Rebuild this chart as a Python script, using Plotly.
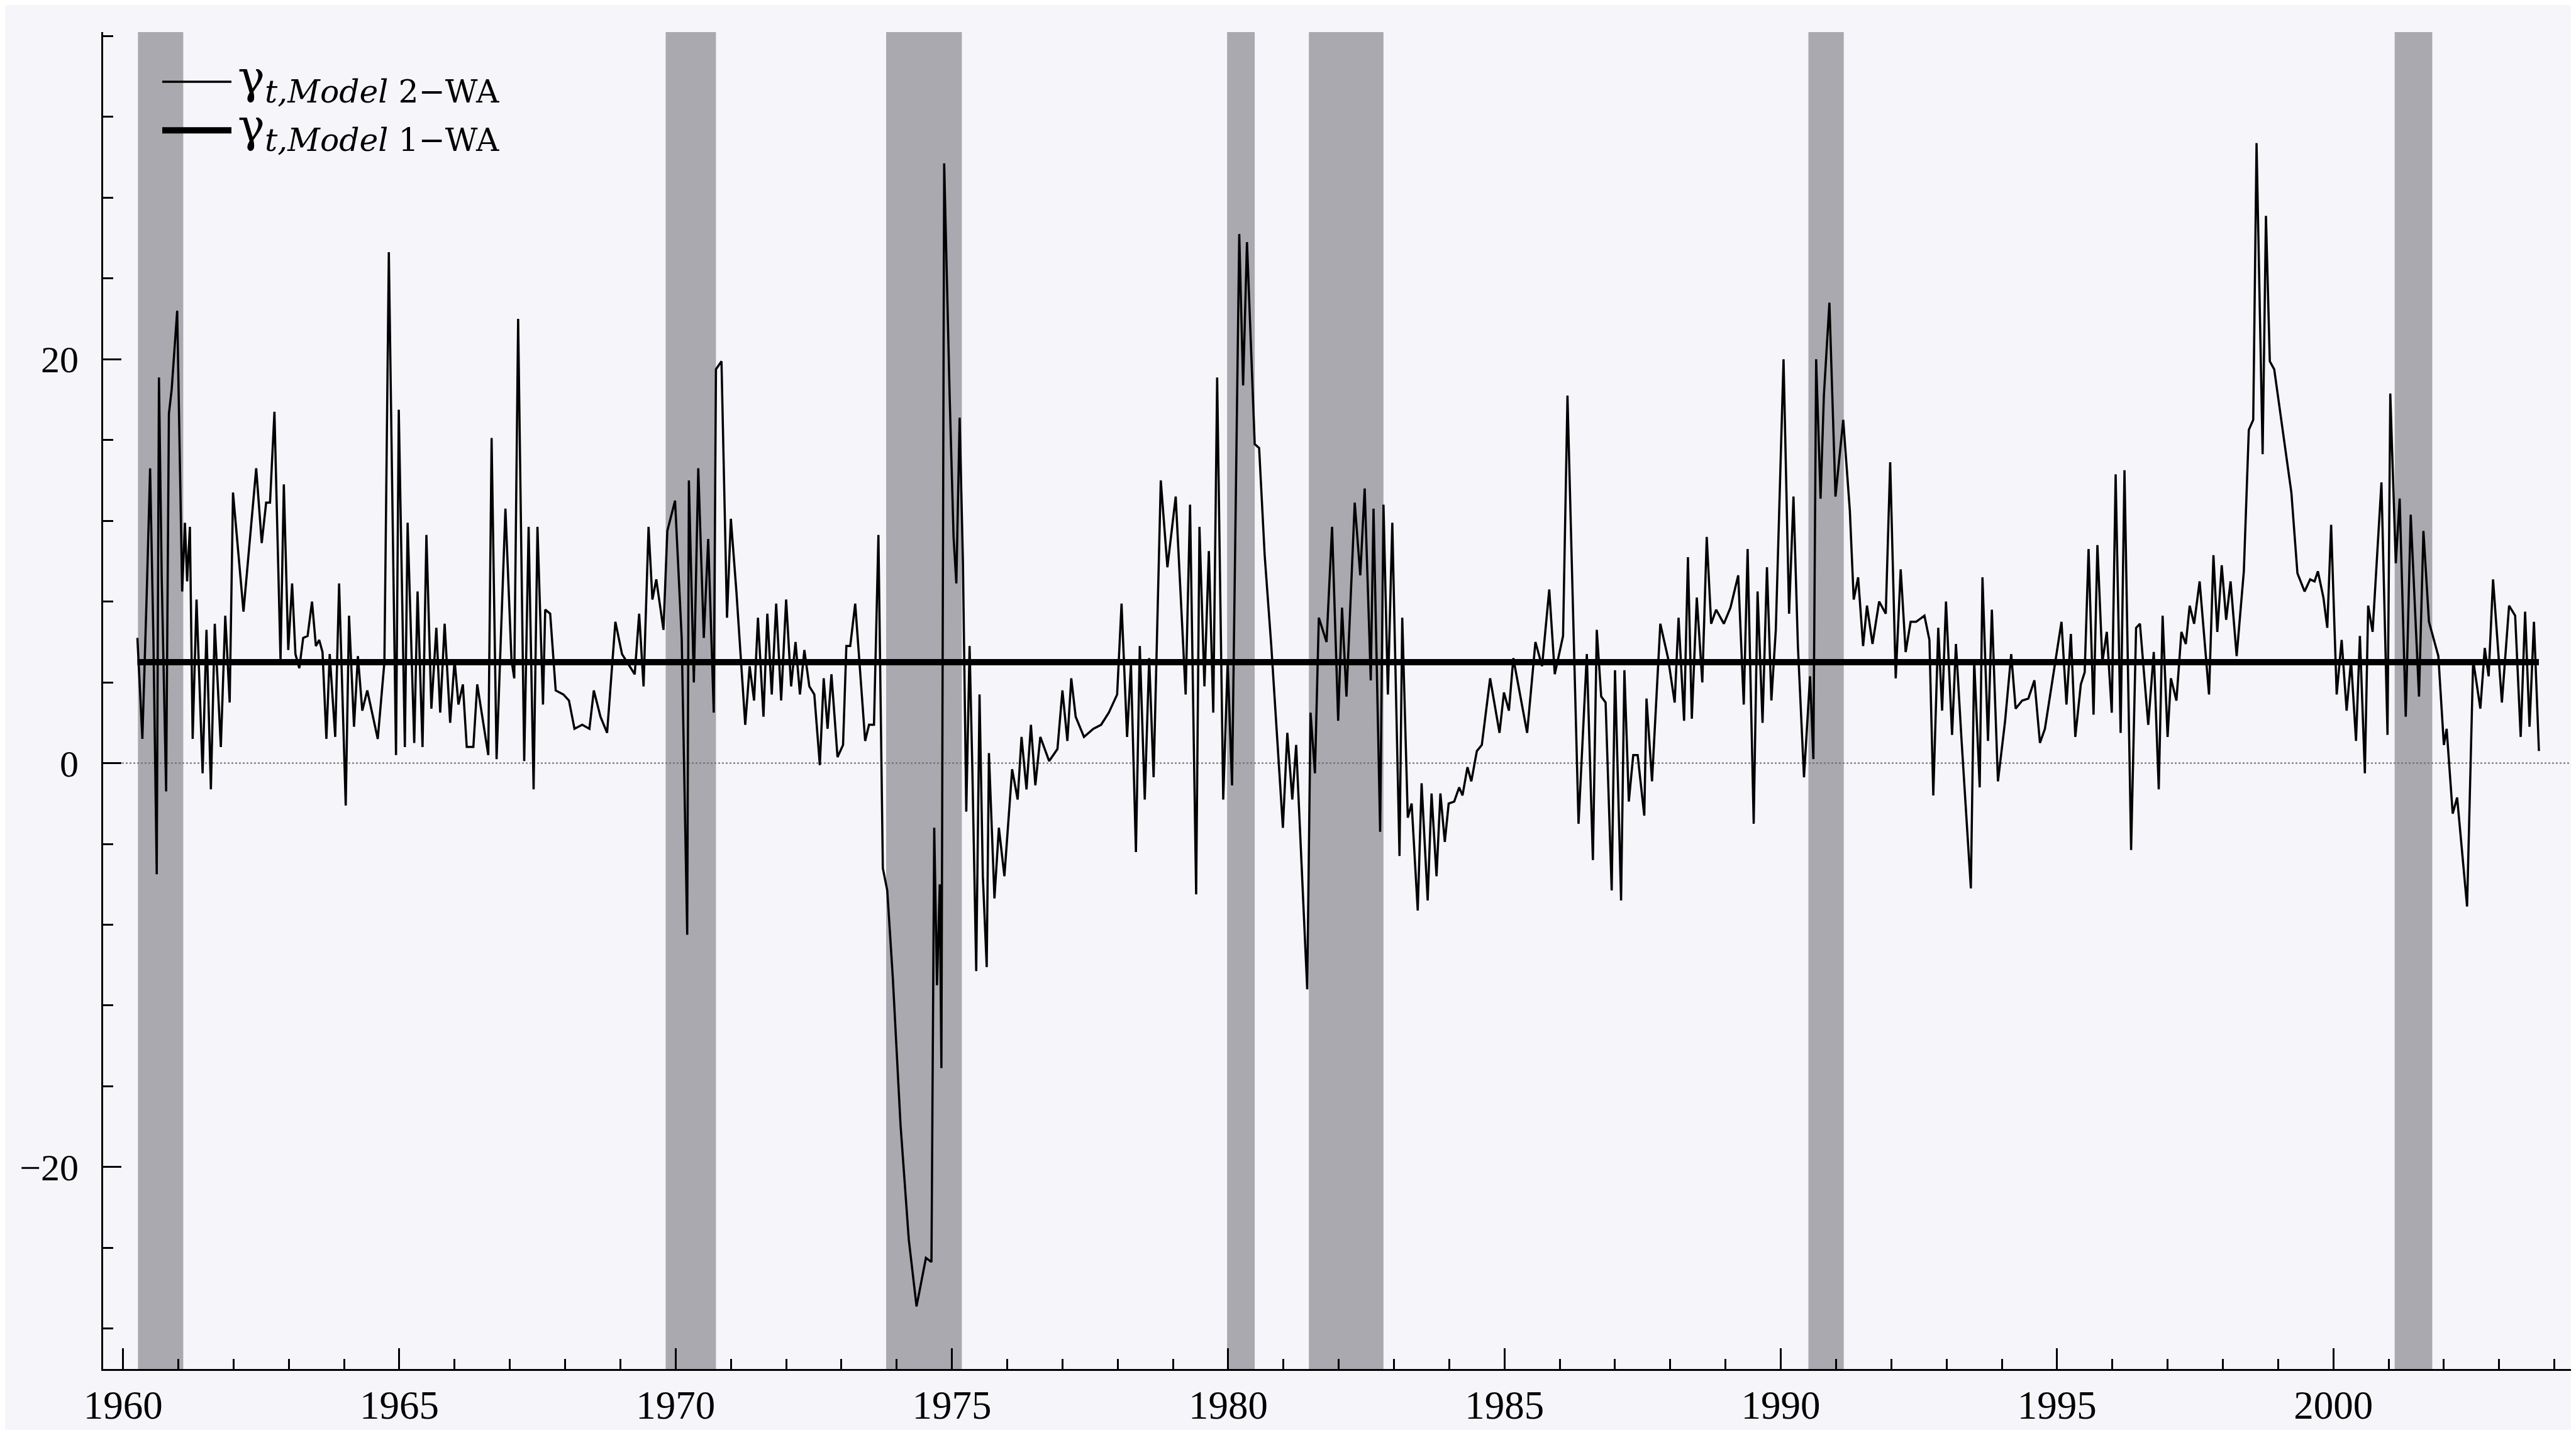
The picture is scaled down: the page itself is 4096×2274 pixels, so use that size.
import plotly.graph_objects as go

# ---------------- data ----------------
years_model2 = [
    1960.26, 1960.35, 1960.43, 1960.49, 1960.55, 1960.61, 1960.65, 1960.70, 1960.78, 1960.83,
    1960.88, 1960.98, 1961.07, 1961.12, 1961.16, 1961.21, 1961.26, 1961.33, 1961.44, 1961.51,
    1961.59, 1961.66, 1961.77, 1961.85, 1961.93, 1961.99, 1962.18, 1962.41, 1962.51, 1962.59,
    1962.66, 1962.74, 1962.85, 1962.91, 1962.99, 1963.06, 1963.12, 1963.19, 1963.26, 1963.34,
    1963.42, 1963.49, 1963.55, 1963.61, 1963.68, 1963.74, 1963.84, 1963.91, 1964.03, 1964.09,
    1964.18, 1964.25, 1964.33, 1964.42, 1964.61, 1964.73, 1964.81, 1964.94, 1964.99, 1965.10,
    1965.15, 1965.27, 1965.33, 1965.42, 1965.49, 1965.58, 1965.67, 1965.74, 1965.82, 1965.92,
    1966.00, 1966.07, 1966.15, 1966.22, 1966.34, 1966.41, 1966.61, 1966.67, 1966.76, 1966.92,
    1967.03, 1967.08,
    1967.15, 1967.26, 1967.34, 1967.43, 1967.50, 1967.60, 1967.64, 1967.73, 1967.83, 1967.97,
    1968.07, 1968.17, 1968.31, 1968.44, 1968.52, 1968.64, 1968.76, 1968.91, 1969.03, 1969.12,
    1969.26, 1969.34, 1969.42, 1969.51, 1969.58, 1969.65, 1969.78, 1969.85, 1969.99, 1970.11,
    1970.21, 1970.24, 1970.33, 1970.41, 1970.51, 1970.59, 1970.69, 1970.73, 1970.83, 1970.93,
    1971.00, 1971.10, 1971.17, 1971.26, 1971.34, 1971.42, 1971.49, 1971.59, 1971.66, 1971.74,
    1971.82, 1971.91, 1972.00, 1972.09, 1972.17, 1972.25, 1972.33, 1972.42, 1972.51, 1972.61,
    1972.68, 1972.75, 1972.82, 1972.93, 1973.03, 1973.09, 1973.16, 1973.25, 1973.43, 1973.50,
    1973.59, 1973.67, 1973.75, 1973.83, 1973.93, 1974.07, 1974.22, 1974.36,
    1974.53, 1974.63, 1974.68, 1974.73, 1974.78, 1974.81, 1974.86, 1974.96, 1975.03, 1975.08,
    1975.14, 1975.20, 1975.26, 1975.32, 1975.37, 1975.44, 1975.50, 1975.56, 1975.63, 1975.67,
    1975.77, 1975.85, 1975.95, 1976.09, 1976.19, 1976.26, 1976.35, 1976.43, 1976.51, 1976.60,
    1976.76, 1976.91, 1977.00, 1977.09, 1977.16, 1977.24, 1977.39, 1977.56, 1977.70, 1977.84,
    1977.99, 1978.07, 1978.17, 1978.24, 1978.33, 1978.40, 1978.49, 1978.57, 1978.65, 1978.78,
    1978.90, 1979.05, 1979.23, 1979.31, 1979.42, 1979.48, 1979.57, 1979.65, 1979.73, 1979.80,
    1979.91, 1979.99, 1980.07, 1980.20, 1980.27, 1980.34, 1980.48, 1980.56, 1980.66, 1980.78,
    1980.99, 1981.07, 1981.16, 1981.23, 1981.43, 1981.49, 1981.57, 1981.64,
    1981.78, 1981.88, 1981.99, 1982.06, 1982.14, 1982.29, 1982.39, 1982.47, 1982.58, 1982.63,
    1982.75, 1982.81, 1982.89, 1982.97, 1983.10, 1983.15, 1983.25, 1983.32, 1983.43, 1983.50,
    1983.61, 1983.68, 1983.77, 1983.84, 1983.92, 1983.99, 1984.09, 1984.18, 1984.24, 1984.33,
    1984.40, 1984.50, 1984.59, 1984.74, 1984.91, 1984.99, 1985.08, 1985.16, 1985.41, 1985.56,
    1985.68, 1985.81, 1985.91, 1986.06, 1986.14, 1986.20, 1986.34, 1986.49, 1986.60, 1986.67,
    1986.75, 1986.83, 1986.94, 1987.00, 1987.11, 1987.17, 1987.25, 1987.33, 1987.41, 1987.53,
    1987.57, 1987.67, 1987.82, 1987.96, 1988.08, 1988.15, 1988.25, 1988.32, 1988.39, 1988.48,
    1988.58, 1988.66, 1988.74, 1988.83, 1988.97,
    1989.09, 1989.23, 1989.33, 1989.40, 1989.51, 1989.58, 1989.67, 1989.75, 1989.83, 1989.91,
    1990.05, 1990.15, 1990.23, 1990.31, 1990.42, 1990.53, 1990.59, 1990.64, 1990.72, 1990.78,
    1990.88, 1990.99, 1991.13, 1991.25, 1991.32, 1991.40, 1991.49, 1991.56, 1991.66, 1991.78,
    1991.90, 1991.98, 1992.08, 1992.17, 1992.26, 1992.35, 1992.45, 1992.60, 1992.69, 1992.76,
    1992.85, 1992.92, 1992.99, 1993.10, 1993.17, 1993.27, 1993.44, 1993.50, 1993.60, 1993.65,
    1993.75, 1993.82, 1993.93, 1994.06, 1994.17, 1994.25, 1994.37, 1994.48, 1994.59, 1994.69,
    1994.78, 1995.08, 1995.17, 1995.25, 1995.33, 1995.43, 1995.50, 1995.57, 1995.66, 1995.73,
    1995.82, 1995.90, 1995.99, 1996.06, 1996.15, 1996.22, 1996.34, 1996.43,
    1996.50, 1996.65, 1996.75, 1996.84, 1996.91, 1997.00, 1997.06, 1997.16, 1997.25, 1997.33,
    1997.40, 1997.48, 1997.58, 1997.75, 1997.83, 1997.90, 1997.98, 1998.06, 1998.14, 1998.25,
    1998.38, 1998.47, 1998.55, 1998.61, 1998.72, 1998.78, 1998.85, 1998.93, 1999.24, 1999.35,
    1999.48, 1999.58, 1999.66, 1999.72, 1999.82, 1999.89, 1999.96, 2000.06, 2000.15, 2000.24,
    2000.32, 2000.41, 2000.48, 2000.57, 2000.63, 2000.71, 2000.87, 2000.98, 2001.03, 2001.13,
    2001.20, 2001.31, 2001.40, 2001.55, 2001.63, 2001.73, 2001.90, 2002.00, 2002.05, 2002.16,
    2002.24, 2002.42, 2002.53, 2002.66, 2002.74, 2002.81, 2002.89, 2003.05, 2003.18, 2003.29,
    2003.39, 2003.47, 2003.55, 2003.63, 2003.72,
]

gamma_model2 = [
    6.2, 1.2, 8.5, 14.6, 6.1, -5.5, 19.1, 9.2, -1.4, 17.3,
    18.5, 22.4, 8.5, 11.9, 9.0, 11.7, 1.2, 8.1, -0.5, 6.6,
    -1.3, 6.9, 0.8, 7.3, 3.0, 13.4, 7.5, 14.6, 10.9, 12.9,
    12.9, 17.4, 5.1, 13.8, 5.6, 8.9, 5.4, 4.7, 6.2, 6.3,
    8.0, 5.8, 6.1, 5.5, 1.2, 5.4, 1.3, 8.9, -2.1, 7.3,
    1.8, 5.3, 2.6, 3.6, 1.2, 5.0, 25.3, 0.4, 17.5, 0.8,
    11.9, 1.0, 8.5, 0.8, 11.3, 2.7, 6.7, 2.5, 6.9, 2.0,
    5.1, 2.9, 3.9, 0.8, 0.8, 3.9, 0.4, 16.1, 0.2, 12.6,
    5.1, 4.2,
    22.0, 0.1, 11.7, -1.3, 11.7, 2.9, 7.6, 7.4, 3.6, 3.4,
    3.1, 1.7, 1.9, 1.7, 3.6, 2.3, 1.5, 7.0, 5.4, 5.0,
    4.4, 7.4, 3.8, 11.7, 8.1, 9.1, 6.6, 11.5, 13.0, 6.2,
    -8.5, 14.0, 4.0, 14.6, 6.2, 11.1, 2.5, 19.5, 19.9, 7.2,
    12.1, 8.5, 5.6, 1.9, 4.8, 3.1, 7.2, 2.3, 7.4, 3.4,
    7.9, 3.1, 8.1, 3.8, 6.0, 3.4, 5.6, 3.8, 3.4, -0.1,
    4.2, 1.7, 4.4, 0.3, 0.9, 5.8, 5.8, 7.9, 1.1, 1.9,
    1.9, 11.3, -5.2, -6.3, -10.6, -17.9, -23.6, -26.9,
    -24.5, -24.7, -3.2, -11.0, -6.0, -15.1, 29.7, 18.1, 11.2, 8.9,
    17.1, 9.9, -2.4, 5.8, -0.3, -10.3, 3.4, -5.6, -10.1, 0.5,
    -6.7, -3.2, -5.6, -0.3, -1.8, 1.3, -1.3, 1.9, -1.1, 1.3,
    0.1, 0.7, 3.6, 1.1, 4.2, 2.3, 1.3, 1.7, 1.9, 2.5,
    3.4, 7.9, 1.3, 4.9, -4.4, 5.8, -1.8, 5.2, -0.7, 14.0,
    9.7, 13.2, 3.4, 12.8, -6.5, 11.7, 3.8, 10.5, 2.5, 19.1,
    -1.8, 5.0, -1.1, 26.2, 18.7, 25.8, 15.8, 15.6, 10.3, 5.8,
    -3.2, 1.5, -1.8, 0.9, -11.2, 2.5, -0.5, 7.2,
    6.0, 11.7, 2.1, 7.7, 3.3, 12.9, 9.3, 13.6, 4.1, 12.6,
    -3.4, 12.8, 3.4, 11.9, -4.6, 7.2, -2.7, -2.0, -7.3, -1.0,
    -6.8, -1.5, -5.6, -1.5, -3.9, -2.0, -1.9, -1.2, -1.6, -0.2,
    -0.9, 0.6, 0.9, 4.2, 1.5, 3.5, 2.6, 5.2, 1.5, 6.0,
    4.8, 8.6, 4.4, 6.3, 18.2, 11.6, -3.0, 5.4, -4.8, 6.6,
    3.3, 3.0, -6.3, 4.6, -6.8, 4.6, -1.9, 0.4, 0.4, -2.6,
    3.2, -0.9, 6.9, 5.2, 3.0, 7.2, 2.1, 10.2, 2.2, 8.2,
    4.0, 11.2, 6.9, 7.6, 6.9,
    7.7, 9.3, 2.9, 10.6, -3.0, 8.5, 2.0, 9.7, 3.1, 6.6,
    20.0, 7.4, 13.2, 5.8, -0.7, 4.3, 0.2, 20.0, 13.1, 18.2,
    22.8, 13.2, 17.0, 12.5, 8.1, 9.2, 5.8, 7.8, 5.9, 8.0,
    7.4, 14.9, 4.2, 9.6, 5.5, 7.0, 7.0, 7.3, 6.1, -1.6,
    6.7, 2.6, 8.0, 1.4, 5.9, 1.2, -6.2, 5.1, -1.2, 9.2,
    1.1, 7.6, -0.9, 2.1, 5.4, 2.7, 3.1, 3.2, 4.1, 1.0,
    1.7, 7.0, 2.9, 6.4, 1.3, 3.9, 4.5, 10.6, 2.4, 10.8,
    5.0, 6.5, 2.5, 14.3, 1.5, 14.5, -4.3, 6.7,
    6.9, 1.9, 5.5, -1.3, 7.3, 1.3, 4.2, 3.1, 6.5, 5.9,
    7.8, 6.9, 9.0, 3.4, 10.3, 6.5, 9.8, 7.1, 9.0, 5.3,
    9.5, 16.5, 17.0, 30.7, 15.3, 27.1, 19.9, 19.5, 13.4, 9.4,
    8.5, 9.1, 9.0, 9.5, 8.2, 6.7, 11.8, 3.4, 6.1, 2.6,
    5.1, 1.1, 6.3, -0.5, 7.8, 6.5, 13.9, 1.4, 18.3, 9.9,
    13.1, 2.3, 12.3, 3.3, 11.5, 7.0, 5.3, 0.9, 1.7, -2.5,
    -1.7, -7.1, 5.1, 2.7, 5.7, 4.3, 9.1, 3.0, 7.8, 7.3,
    1.3, 7.5, 1.8, 7.0, 0.6,
]

model1_years = [1960.26, 2003.72]
model1_level = [5.0, 5.0]

recession_start = [1960.27, 1969.82, 1973.81, 1979.98, 1981.46, 1990.50, 2001.11]
recession_end = [1961.09, 1970.73, 1975.18, 1980.48, 1982.81, 1991.14, 2001.79]

x_major_ticks = [1960, 1965, 1970, 1975, 1980, 1985, 1990, 1995, 2000]
x_tick_labels = ["1960", "1965", "1970", "1975", "1980", "1985", "1990", "1995", "2000"]
y_major_ticks = [-20, 0, 20]
y_tick_labels = ["\u221220", "0", "20"]

legend_labels = [
    "\u03b3<sub><i>t,Model</i> 2\u2212WA</sub>",
    "\u03b3<sub><i>t,Model</i> 1\u2212WA</sub>",
]

# ---------------- styling ----------------
BG = "#f6f6fa"
BAND = "#a9a9af"
FONT = "Liberation Serif"

W, H = 4096, 2274
ML, MR, MT, MB = 156, 16, 43, 80
PW, PH = W - ML - MR, H - MT - MB

fig = go.Figure()

for s, e in zip(recession_start, recession_end):
    fig.add_vrect(x0=s, x1=e, fillcolor=BAND, opacity=1, line_width=0, layer="below")

fig.add_hline(y=0, line=dict(color="#6a6a70", width=2, dash="dot"), layer="below")

fig.add_trace(go.Scatter(
    x=years_model2, y=gamma_model2, mode="lines", name="Model 2-WA",
    line=dict(color="black", width=3.5), showlegend=False,
))
fig.add_trace(go.Scatter(
    x=model1_years, y=model1_level, mode="lines", name="Model 1-WA",
    line=dict(color="black", width=10), showlegend=False,
))

# manual legend (long line samples, as in the original)
def px2paper_x(px):
    return (px - ML) / PW

def px2paper_y(py):
    return (H - MB - py) / PH

legend_widths = [3.5, 10]
legend_line_y = [123, 201]
for lab, lw, ly in zip(legend_labels, legend_widths, legend_line_y):
    fig.add_shape(type="line", xref="paper", yref="paper",
                  x0=px2paper_x(250), x1=px2paper_x(360),
                  y0=px2paper_y(ly), y1=px2paper_y(ly),
                  line=dict(color="black", width=lw))
    fig.add_annotation(xref="paper", yref="paper",
                       x=px2paper_x(368), y=px2paper_y(ly - 2),
                       xanchor="left", yanchor="middle", showarrow=False,
                       text=lab, font=dict(family="DejaVu Serif", size=72, color="black"))

fig.update_layout(
    width=W, height=H,
    margin=dict(l=ML, r=MR, t=MT, b=MB),
    paper_bgcolor=BG, plot_bgcolor=BG,
    font=dict(family=FONT, color="black", size=63),
    showlegend=False,
)

fig.update_xaxes(
    range=[1959.64, 2004.30],
    tickmode="array", tickvals=x_major_ticks, ticktext=x_tick_labels,
    ticks="inside", ticklen=33, tickwidth=3, tickcolor="black",
    showline=True, linewidth=3, linecolor="black",
    showgrid=False, zeroline=False,
    tickfont=dict(family=FONT, size=63, color="black"),
    minor=dict(tickmode="linear", tick0=1960, dtick=1, ticks="inside",
               ticklen=16, tickwidth=3, tickcolor="black", showgrid=False),
)
fig.update_yaxes(
    range=[-30.0, 36.2],
    tickmode="array", tickvals=y_major_ticks, ticktext=y_tick_labels,
    ticks="inside", ticklen=29, tickwidth=3, tickcolor="black",
    showline=True, linewidth=3, linecolor="black",
    showgrid=False, zeroline=False, ticklabelstandoff=24,
    tickfont=dict(family=FONT, size=60, color="black"),
    minor=dict(tickmode="linear", tick0=0, dtick=4, ticks="inside",
               ticklen=16, tickwidth=3, tickcolor="black", showgrid=False),
)

fig.write_html("out.html")
